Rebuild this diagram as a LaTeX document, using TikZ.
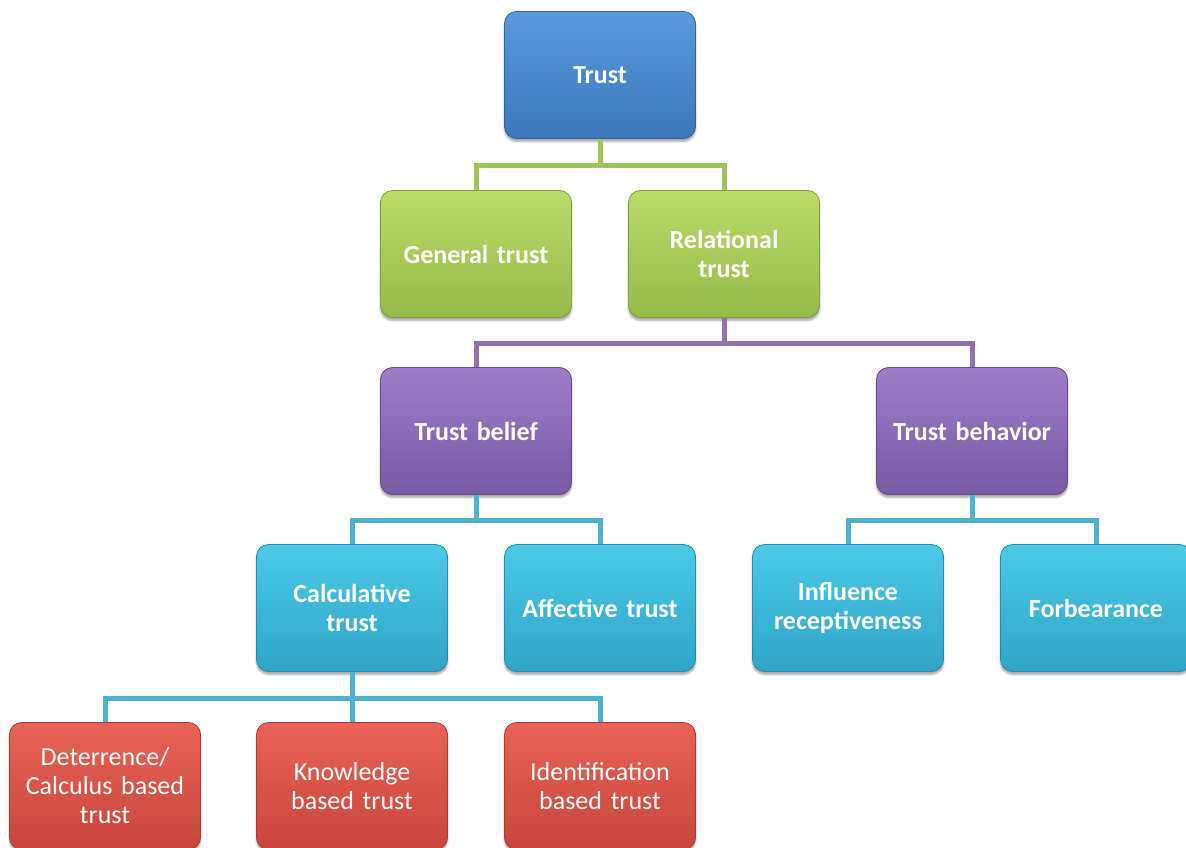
\documentclass[tikz,border=0pt]{standalone}
\usepackage{fontspec}
\setmainfont{Carlito}
\usetikzlibrary{shadows.blur}

\definecolor{blueT}{RGB}{88,155,222}
\definecolor{blueB}{RGB}{58,118,186}
\definecolor{greenT}{RGB}{184,218,104}
\definecolor{greenB}{RGB}{150,186,72}
\definecolor{purpleT}{RGB}{156,126,200}
\definecolor{purpleB}{RGB}{120,90,164}
\definecolor{cyanT}{RGB}{74,202,232}
\definecolor{cyanB}{RGB}{48,164,198}
\definecolor{redT}{RGB}{234,98,86}
\definecolor{redB}{RGB}{198,70,60}
\definecolor{gline}{RGB}{156,196,90}
\definecolor{pline}{RGB}{146,112,182}
\definecolor{cline}{RGB}{76,178,206}

\tikzset{
  box/.style={rectangle, rounded corners=12pt, minimum width=191pt,
    minimum height=127pt, text width=182pt, align=center, text=white,
    line width=0.8pt, font=\fontsize{26}{29}\selectfont\bfseries,
    blur shadow={shadow xshift=0pt, shadow yshift=-3pt, shadow opacity=35,
      shadow blur steps=6, shadow blur extra rounding=2pt}},
  bluebox/.style={box, top color=blueT, bottom color=blueB, draw=blueB!85!black},
  greenbox/.style={box, top color=greenT, bottom color=greenB, draw=greenB!85!black},
  purplebox/.style={box, top color=purpleT, bottom color=purpleB, draw=purpleB!85!black},
  cyanbox/.style={box, top color=cyanT, bottom color=cyanB, draw=cyanB!85!black},
  redbox/.style={box, top color=redT, bottom color=redB, draw=redB!85!black,
    font=\fontsize{26}{29}\selectfont},
  link/.style={line width=5pt, line join=miter},
}

\begin{document}
\begin{tikzpicture}[x=1pt, y=-1pt]
\useasboundingbox (0,0) rectangle (1186,848);

% tree of boxes
\node[bluebox]   (trust)      at (600,75)  {Trust};
\node[greenbox]  (general)    at (476,254) {General trust};
\node[greenbox]  (relational) at (724,254) {Relational\\trust};
\node[purplebox] (belief)     at (476,431) {Trust belief};
\node[purplebox] (behavior)   at (972,431) {Trust behavior};
\node[cyanbox]   (calc)       at (352,608) {Calculative\\trust};
\node[cyanbox]   (affect)     at (600,608) {Affective trust};
\node[cyanbox]   (influence)  at (848,608) {Influence\\receptiveness};
\node[cyanbox]   (forbear)    at (1096,608) {Forbearance};
\node[redbox]    (deter)      at (105,786) {Deterrence/\\Calculus based\\trust};
\node[redbox]    (knowledge)  at (352,786) {Knowledge\\based trust};
\node[redbox]    (ident)      at (600,786) {Identification\\based trust};

% connectors
\draw[link, gline] (trust.south) -- ++(0,27) coordinate (j1);
\draw[link, gline] (general.north) |- (j1) -| (relational.north);

\draw[link, pline] (relational.south) -- ++(0,26) coordinate (j2);
\draw[link, pline] (belief.north) |- (j2) -| (behavior.north);

\draw[link, cline] (belief.south) -- ++(0,26) coordinate (j3);
\draw[link, cline] (calc.north) |- (j3) -| (affect.north);

\draw[link, cline] (behavior.south) -- ++(0,26) coordinate (j4);
\draw[link, cline] (influence.north) |- (j4) -| (forbear.north);

\draw[link, cline] (calc.south) -- ++(0,27) coordinate (j5);
\draw[link, cline] (deter.north) |- (j5) -| (ident.north);
\draw[link, cline] (j5) -- (knowledge.north);
\end{tikzpicture}
\end{document}
